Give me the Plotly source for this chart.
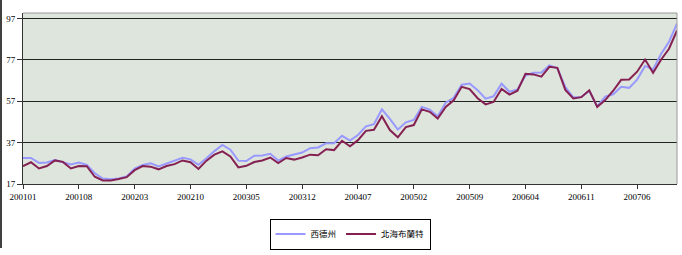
import plotly.graph_objects as go

# Monthly labels 200101 .. 200711
months = [f"{y}{m:02d}" for y in range(2001, 2008) for m in range(1, 13)][:83]

wti = [29.6, 29.6, 27.2, 27.4, 28.6, 27.6, 26.4, 27.4, 26.2, 22.2, 19.6, 19.3,
       19.7, 20.7, 24.5, 26.2, 27.0, 25.5, 26.9, 28.4, 29.7, 28.9, 26.3, 29.4,
       32.9, 35.9, 33.6, 28.3, 28.1, 30.7, 30.8, 31.6, 28.3, 30.3, 31.1, 32.2,
       34.3, 34.7, 36.7, 36.7, 40.3, 38.0, 40.7, 44.9, 45.9, 53.1, 48.5, 43.3,
       46.8, 48.0, 54.3, 53.0, 49.8, 56.3, 58.7, 65.0, 65.6, 62.4, 58.3, 59.4,
       65.5, 61.6, 62.7, 69.4, 70.8, 70.9, 74.4, 73.0, 63.8, 58.9, 59.1, 62.0,
       54.5, 59.3, 60.4, 64.0, 63.5, 67.5, 74.1, 72.4, 79.9, 85.8, 94.6]

brent = [25.6, 27.5, 24.5, 25.7, 28.4, 27.7, 24.5, 25.7, 25.6, 20.5, 18.7, 18.7,
         19.4, 20.3, 23.7, 25.7, 25.4, 24.1, 25.7, 26.6, 28.4, 27.5, 24.3, 28.3,
         31.2, 32.8, 30.3, 25.0, 25.8, 27.6, 28.4, 29.8, 27.1, 29.6, 28.8, 29.8,
         31.2, 30.9, 33.8, 33.4, 37.9, 35.2, 38.2, 42.7, 43.2, 49.8, 43.1, 39.6,
         44.5, 45.5, 53.1, 51.9, 48.7, 54.3, 57.5, 64.0, 62.9, 58.5, 55.5, 56.7,
         63.0, 60.2, 62.1, 70.3, 70.0, 68.9, 73.7, 73.2, 62.5, 58.4, 59.0, 62.3,
         54.3, 57.6, 62.1, 67.4, 67.5, 71.3, 77.2, 70.8, 77.1, 82.4, 91.3]

series_names = ["西德州", "北海布蘭特"]
x_ticks = months[::7]
y_ticks = [17, 37, 57, 77, 97]

fig = go.Figure()
fig.add_trace(go.Scatter(x=months, y=wti, mode="lines", name=series_names[0],
                         line=dict(color="#9999FF", width=2)))
fig.add_trace(go.Scatter(x=months, y=brent, mode="lines", name=series_names[1],
                         line=dict(color="#852152", width=2)))

L, R, T, B = 23, 5, 13, 59
W, H = 682, 255
pw, ph = W - L - R, H - T - B

fig.update_layout(
    width=W, height=H,
    margin=dict(l=L, r=R, t=T, b=B, pad=0),
    paper_bgcolor="white",
    plot_bgcolor="#dde5dc",
    showlegend=True,
    legend=dict(orientation="h", x=(350 - L) / pw, xanchor="center",
                y=(ph - (233 - T)) / ph, yanchor="top",
                bordercolor="#000000", borderwidth=1, bgcolor="white",
                itemwidth=30, font=dict(family="Noto Sans CJK TC", size=8.5, color="#000"),
                tracegroupgap=0),
    xaxis=dict(type="category", range=[0, len(months) - 1],
               tickmode="array", tickvals=x_ticks, ticktext=x_ticks,
               showgrid=False, showline=True, linecolor="#333333", linewidth=1,
               ticks="outside", ticklen=4, tickcolor="#333333", tickangle=0,
               tickfont=dict(family="Liberation Serif", size=9, color="#000")),
    yaxis=dict(range=[17, 99.7], tickmode="array", tickvals=y_ticks,
               showgrid=True, gridcolor="#222222", gridwidth=1,
               showline=True, linecolor="#333333", linewidth=1, zeroline=False,
               ticks="outside", ticklen=5, tickcolor="#333333",
               tickfont=dict(family="Liberation Serif", size=9, color="#000")),
    shapes=[
        dict(type="line", xref="paper", yref="paper", x0=0, x1=1, y0=1, y1=1,
             line=dict(color="#9a9a9a", width=1)),
        dict(type="line", xref="paper", yref="paper", x0=1, x1=1, y0=0, y1=1,
             line=dict(color="#9a9a9a", width=1)),
        dict(type="line", xref="paper", yref="paper", ysizemode="pixel", yanchor=0,
             x0=-(L - 1) / pw, x1=-(L - 1) / pw,
             y0=-B - 5, y1=ph + T + 5, line=dict(color="#404040", width=2)),
    ],
)

fig.write_html("out.html")
